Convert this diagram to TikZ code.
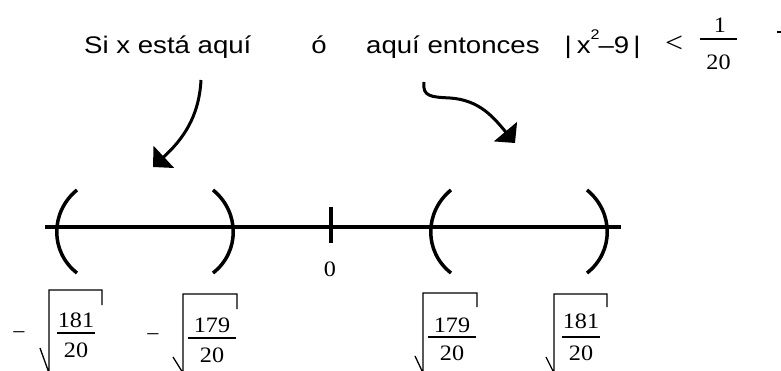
\documentclass[tikz,border=0pt]{standalone}
\usepackage{fontspec}
\setmainfont{Liberation Sans}
\newfontfamily\widesans[FakeStretch=1.15]{Liberation Sans}
\newfontfamily\seriffont[FakeStretch=1.1]{Liberation Serif}
\usetikzlibrary{arrows.meta}

\begin{document}
\begin{tikzpicture}[x=1pt, y=-1pt,
  words/.style={font=\fontsize{24}{28}\selectfont\widesans, inner sep=0pt, anchor=base west},
  digits/.style={font=\fontsize{22}{26}\selectfont\seriffont, inner sep=0pt},
  bend arrow/.style={line width=3pt, -{Triangle[angle=90:21pt]}},
  axis/.style={line width=4pt},
  paren/.style={line width=3.5pt},
  root/.style={line width=1.3pt},
  fracbar/.style={line width=1.2pt}]
\useasboundingbox (0,0) rectangle (781,371);
\clip (0,0) rectangle (781,371);
% texto de arriba
\node[words] (si) at (84,54) {Si x está aquí};
\node[words, anchor=base] (o) at (319,54) {ó};
\node[words] (aqui) at (366,54) {aquí entonces};
\node[words] (abs) at (564.5,54) {|\hspace{5pt}x\raisebox{14pt}{\fontsize{14}{14}\selectfont 2}\hspace{-1pt}–9\hspace{4pt}|};
\node[digits, font=\fontsize{29}{32}\selectfont\seriffont] (menor) at (674,44.5) {<};
\node[digits] (uno) at (720,25.5) {1};
\node[digits] (veinte) at (718.5,62.5) {20};
\draw[fracbar] (700,39) -- (737,39);
\draw[fracbar] (777,32) -- (781,32);
% flechas
\coordinate (lsrc) at (201,80);
\coordinate (ltip) at (153,167);
\coordinate (rsrc) at (424,82);
\coordinate (rtip) at (515,143);
\draw[bend arrow] (lsrc) .. controls (199,118) and (182,140) .. (ltip);
\draw[bend arrow] (rsrc) .. controls (422,97) and (432,97) .. (450,98) .. controls (480,100) and (494,118) .. (rtip);
% recta
\coordinate (axl) at (45,227);
\coordinate (axr) at (621,227);
\draw[axis] (axl) -- (axr);
\draw[axis] (331,207) -- (331,243);
\node[digits] (cero) at (330,269.5) {0};
\foreach \x/\s in {77/-1, 451/-1, 213/1, 587/1}
  \draw[paren] (\x,190) .. controls ({\x+27*\s},212) and ({\x+27*\s},252) .. (\x,273);
% raices
\node[digits, anchor=base] (menos1) at (19,339) {−};
\node[digits, anchor=base] (menos2) at (153,341) {−};
\foreach \v/\t/\r/\b/\cx/\cy in {49/290/102/305/40/348, 183/294/237/309/173/357,
    423/293/477/307/415/356, 554/294/607/307/546/357}
  \draw[root] (\cx,\cy) -- (\v,373) -- (\v,\t) -- (\r,\t) -- (\r,\b);
\foreach \i/\x/\nn/\ny/\dy/\by/\bw in {1/76/181/320/350/333/19, 2/212/179/325/355/338/24,
    3/452/179/325/353.5/337/24, 4/581/181/321.5/353.5/337/19}
{
  \node[digits] (num\i) at (\x,\ny) {\nn};
  \node[digits] (den\i) at (\x,\dy) {20};
  \draw[fracbar] ({\x-\bw},\by) -- ({\x+\bw},\by);
}
\end{tikzpicture}
\end{document}
